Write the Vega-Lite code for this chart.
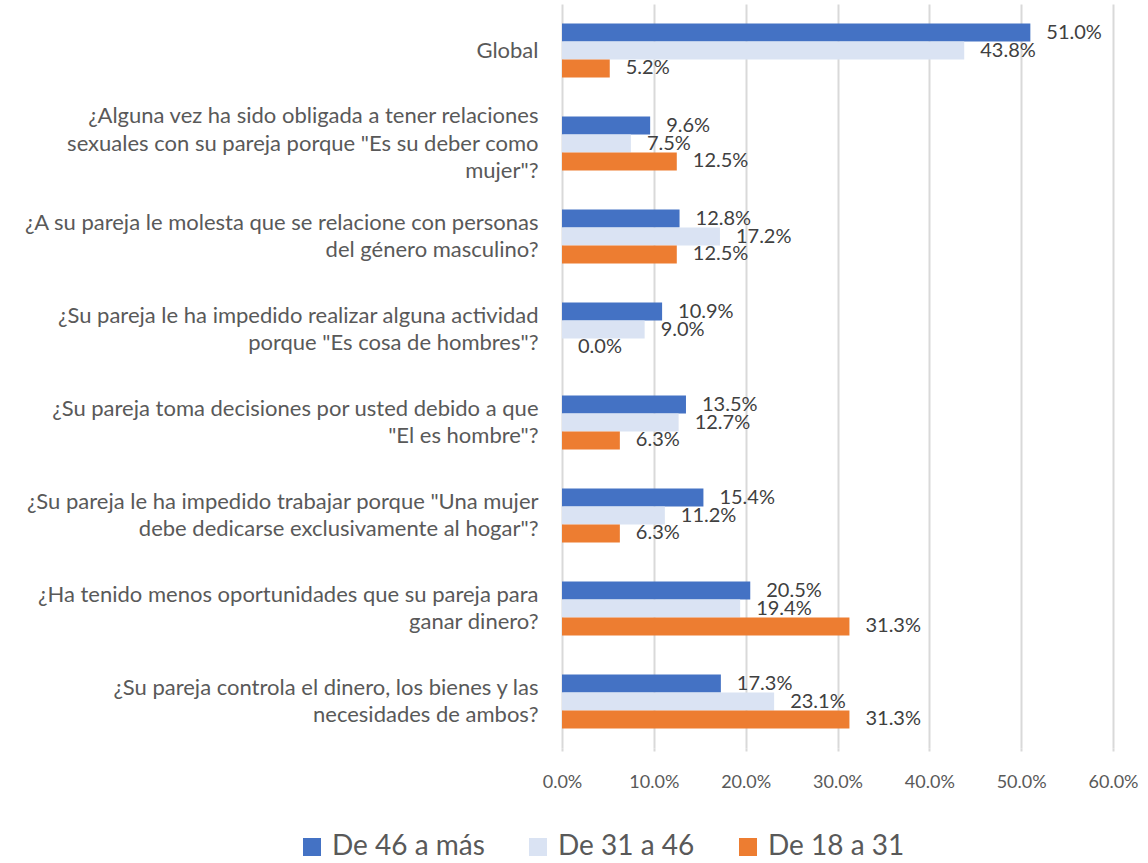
{
  "$schema": "https://vega.github.io/schema/vega-lite/v6.json",
  "width": 551,
  "height": 744,
  "autosize": {"type": "none"},
  "padding": {"left": 562, "top": 4, "right": 35, "bottom": 115},
  "background": "white",
  "config": {
    "font": "Lato",
    "view": {"stroke": null},
    "text": {"font": "Lato"}
  },
  "data": {
    "values": [
      {"q": "Global", "serie": "De 46 a más", "v": 0.510},
      {"q": "Global", "serie": "De 31 a 46", "v": 0.438},
      {"q": "Global", "serie": "De 18 a 31", "v": 0.052},
      {"q": "¿Alguna vez ha sido obligada a tener relaciones \nsexuales con su pareja porque \"Es su deber como\nmujer\"?", "serie": "De 46 a más", "v": 0.096},
      {"q": "¿Alguna vez ha sido obligada a tener relaciones \nsexuales con su pareja porque \"Es su deber como\nmujer\"?", "serie": "De 31 a 46", "v": 0.075},
      {"q": "¿Alguna vez ha sido obligada a tener relaciones \nsexuales con su pareja porque \"Es su deber como\nmujer\"?", "serie": "De 18 a 31", "v": 0.125},
      {"q": "¿A su pareja le molesta que se relacione con personas\ndel género masculino?", "serie": "De 46 a más", "v": 0.128},
      {"q": "¿A su pareja le molesta que se relacione con personas\ndel género masculino?", "serie": "De 31 a 46", "v": 0.172},
      {"q": "¿A su pareja le molesta que se relacione con personas\ndel género masculino?", "serie": "De 18 a 31", "v": 0.125},
      {"q": "¿Su pareja le ha impedido realizar alguna actividad\nporque \"Es cosa de hombres\"?", "serie": "De 46 a más", "v": 0.109},
      {"q": "¿Su pareja le ha impedido realizar alguna actividad\nporque \"Es cosa de hombres\"?", "serie": "De 31 a 46", "v": 0.090},
      {"q": "¿Su pareja le ha impedido realizar alguna actividad\nporque \"Es cosa de hombres\"?", "serie": "De 18 a 31", "v": 0.000},
      {"q": "¿Su pareja toma decisiones por usted debido a que\n\"El es hombre\"?", "serie": "De 46 a más", "v": 0.135},
      {"q": "¿Su pareja toma decisiones por usted debido a que\n\"El es hombre\"?", "serie": "De 31 a 46", "v": 0.127},
      {"q": "¿Su pareja toma decisiones por usted debido a que\n\"El es hombre\"?", "serie": "De 18 a 31", "v": 0.063},
      {"q": "¿Su pareja le ha impedido trabajar porque \"Una mujer\ndebe dedicarse exclusivamente al hogar\"?", "serie": "De 46 a más", "v": 0.154},
      {"q": "¿Su pareja le ha impedido trabajar porque \"Una mujer\ndebe dedicarse exclusivamente al hogar\"?", "serie": "De 31 a 46", "v": 0.112},
      {"q": "¿Su pareja le ha impedido trabajar porque \"Una mujer\ndebe dedicarse exclusivamente al hogar\"?", "serie": "De 18 a 31", "v": 0.063},
      {"q": "¿Ha tenido menos oportunidades que su pareja para\nganar dinero?", "serie": "De 46 a más", "v": 0.205},
      {"q": "¿Ha tenido menos oportunidades que su pareja para\nganar dinero?", "serie": "De 31 a 46", "v": 0.194},
      {"q": "¿Ha tenido menos oportunidades que su pareja para\nganar dinero?", "serie": "De 18 a 31", "v": 0.313},
      {"q": "¿Su pareja controla el dinero, los bienes y las\nnecesidades de ambos?", "serie": "De 46 a más", "v": 0.173},
      {"q": "¿Su pareja controla el dinero, los bienes y las\nnecesidades de ambos?", "serie": "De 31 a 46", "v": 0.231},
      {"q": "¿Su pareja controla el dinero, los bienes y las\nnecesidades de ambos?", "serie": "De 18 a 31", "v": 0.313}
    ]
  },
  "encoding": {
    "y": {
      "field": "q",
      "type": "nominal",
      "sort": null,
      "scale": {"paddingInner": 0.42, "paddingOuter": 0.21},
      "axis": {
        "title": null,
        "domain": false,
        "ticks": false,
        "tickSize": 0,
        "labelPadding": 24,
        "labelAlign": "right",
        "labelBaseline": "middle",
        "labelFont": "Lato",
        "labelFontSize": 22,
        "labelColor": "#595959",
        "labelLimit": 700,
        "labelLineHeight": 27.5,
        "labelOffset": {"expr": "-(length(split(datum.label, '\\n')) - 1) * 13.75"},
        "labelExpr": "split(datum.label, '\\n')"
      }
    },
    "yOffset": {
      "field": "serie",
      "type": "nominal",
      "sort": ["De 46 a más", "De 31 a 46", "De 18 a 31"],
      "scale": {"paddingInner": 0, "paddingOuter": 0}
    },
    "x": {
      "field": "v",
      "type": "quantitative",
      "scale": {"domain": [0, 0.6], "nice": false},
      "axis": {
        "title": null,
        "format": ".1%",
        "values": [0, 0.1, 0.2, 0.3, 0.4, 0.5, 0.6],
        "domain": false,
        "grid": true,
        "gridColor": "#D9D9D9",
        "gridWidth": 2,
        "ticks": true,
        "tickColor": "#D9D9D9",
        "tickWidth": 2,
        "tickSize": 3,
        "labelPadding": 22,
        "labelFont": "Lato",
        "labelFontSize": 18,
        "labelColor": "#595959",
        "labelFlush": false
      }
    }
  },
  "layer": [
    {
      "mark": {"type": "bar"},
      "encoding": {
        "color": {
          "field": "serie",
          "type": "nominal",
          "sort": ["De 46 a más", "De 31 a 46", "De 18 a 31"],
          "scale": {
            "domain": ["De 46 a más", "De 31 a 46", "De 18 a 31"],
            "range": ["#4472C4", "#DAE3F3", "#ED7D31"]
          },
          "legend": {
            "title": null,
            "orient": "none",
            "direction": "horizontal",
            "legendX": -264,
            "legendY": 829,
            "symbolType": "square",
            "symbolSize": 324,
            "symbolStrokeWidth": 0,
            "labelFont": "Lato",
            "labelFontSize": 28,
            "labelColor": "#595959",
            "labelOffset": 6,
            "columnPadding": 39,
            "padding": 0
          }
        }
      }
    },
    {
      "mark": {"type": "text", "align": "left", "baseline": "middle", "dx": 16, "fontSize": 20, "color": "#404040", "font": "Lato"},
      "encoding": {
        "text": {"field": "v", "type": "quantitative", "format": ".1%"}
      }
    }
  ]
}
